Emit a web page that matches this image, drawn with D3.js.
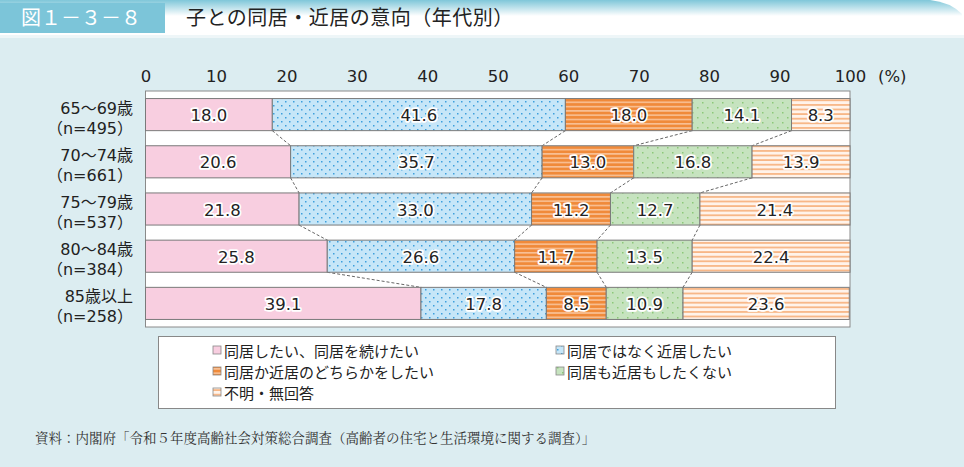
<!DOCTYPE html>
<html><head><meta charset="utf-8">
<script src="https://cdn.jsdelivr.net/npm/d3@7/dist/d3.min.js"></script>
<style>
html,body{margin:0;padding:0;background:#dcedf1;}
svg{display:block;font-family:"Noto Sans CJK JP","Noto Sans",sans-serif;}
</style></head>
<body><svg id="c" width="964" height="467"></svg>
<script>
const categories = ["65～69歳|（n=495）","70～74歳|（n=661）","75～79歳|（n=537）","80～84歳|（n=384）","85歳以上|（n=258）"];
const seriesNames = ["同居したい、同居を続けたい","同居ではなく近居したい","同居か近居のどちらかをしたい","同居も近居もしたくない","不明・無回答"];
const s1 = [18.0, 20.6, 21.8, 25.8, 39.1];
const s2 = [41.6, 35.7, 33.0, 26.6, 17.8];
const s3 = [18.0, 13.0, 11.2, 11.7, 8.5];
const s4 = [14.1, 16.8, 12.7, 13.5, 10.9];
const s5 = [8.3, 13.9, 21.4, 22.4, 23.6];
const tickValues = [0,10,20,30,40,50,60,70,80,90,100];
const series = [s1,s2,s3,s4,s5];

const NUMFONT = "'DejaVu Sans','Noto Sans CJK JP',sans-serif";
const svg = d3.select("#c");
const defs = svg.append("defs");

// header
const hg = defs.append("linearGradient").attr("id","hg").attr("x1",0).attr("y1",0).attr("x2",0).attr("y2",1);
hg.append("stop").attr("offset","0").attr("stop-color","#7fc7d9");
hg.append("stop").attr("offset","1").attr("stop-color","#ffffff");
svg.append("rect").attr("x",0).attr("y",0).attr("width",964).attr("height",38).attr("fill","#ffffff");
svg.append("path").attr("d","M0,0 H930 Q950,2 962,14 V16 H0 Z").attr("fill","url(#hg)");
svg.append("rect").attr("x",0).attr("y",3).attr("width",165).attr("height",30).attr("fill","#7cc5d9");
svg.append("text").attr("x",21).attr("y",25).attr("fill","#ffffff").attr("font-size",20).text("図１－３－８");
svg.append("text").attr("x",186).attr("y",25).attr("fill","#222").attr("font-size",20).attr("letter-spacing",0.5).text("子との同居・近居の意向（年代別）");
svg.append("rect").attr("x",0).attr("y",35).attr("width",964).attr("height",3).attr("fill","#eef6f8");

// patterns
function pat(id,w,h){ return defs.append("pattern").attr("id",id).attr("patternUnits","userSpaceOnUse").attr("width",w).attr("height",h); }
let p = pat("pBlue",8,8);
p.append("rect").attr("width",8).attr("height",8).attr("fill","#c6e6f8");
p.append("rect").attr("x",1).attr("y",1).attr("width",1.5).attr("height",1.5).attr("fill","#3d9fdc");
p.append("rect").attr("x",5).attr("y",5).attr("width",1.5).attr("height",1.5).attr("fill","#3d9fdc");
p = pat("pOrange",4,4.3);
p.append("rect").attr("width",4).attr("height",4.3).attr("fill","#f08a3a");
p.append("rect").attr("y",2.8).attr("width",4).attr("height",1.2).attr("fill","#fbd3b4");
p = pat("pGreen",10,10);
p.append("rect").attr("width",10).attr("height",10).attr("fill","#c6e3bf");
p.append("rect").attr("x",2).attr("y",2).attr("width",1.5).attr("height",1.5).attr("fill","#8cc879");
p.append("rect").attr("x",7).attr("y",7).attr("width",1.5).attr("height",1.5).attr("fill","#8cc879");
p = pat("pLight",4,4.6);
p.append("rect").attr("width",4).attr("height",4.6).attr("fill","#fff3ea");
p.append("rect").attr("y",3).attr("width",4).attr("height",1.4).attr("fill","#f6a56a");
const fills = ["#f8cee0","url(#pBlue)","url(#pOrange)","url(#pGreen)","url(#pLight)"];

const x = d3.scaleLinear().domain([0,100]).range([145.5,850]);
const y = d3.scaleBand().domain(categories).range([91,327]).paddingInner(0.32).paddingOuter(0.16);

// plot area
svg.append("rect").attr("x",x(0)).attr("y",91).attr("width",x(100)-x(0)).attr("height",236)
  .attr("fill","#ffffff").attr("stroke","#8a8a8a").attr("stroke-width",1);

// axis
const ax = svg.append("g").attr("transform","translate(0,82)")
  .call(d3.axisTop(x).tickValues(tickValues).tickSize(0).tickPadding(0).tickFormat(d3.format("d")));
ax.select(".domain").remove();
ax.selectAll("text").attr("font-size",16.5).attr("fill","#222").attr("font-family",NUMFONT);
svg.append("text").attr("x",878).attr("y",82).attr("font-size",16.5).attr("fill","#222").attr("font-family",NUMFONT).text("(%)");

// stacked data
const rows = categories.map((c,i)=>{
  let cum=0; const segs=[];
  series.forEach((s,k)=>{ const v=s[i]; segs.push({k,v,x0:cum,x1:Math.min(100,cum+v)}); cum+=v; });
  return {c,segs};
});

// connectors
for(let i=0;i<rows.length-1;i++){
  for(let k=0;k<4;k++){
    svg.append("line")
      .attr("x1",x(rows[i].segs[k].x1)).attr("y1",y(rows[i].c)+y.bandwidth())
      .attr("x2",x(rows[i+1].segs[k].x1)).attr("y2",y(rows[i+1].c))
      .attr("stroke","#555").attr("stroke-width",0.9).attr("stroke-dasharray","3,2");
  }
}

const g = svg.append("g");
rows.forEach(r=>{
  r.segs.forEach(s=>{
    g.append("rect").attr("x",x(s.x0)).attr("y",y(r.c)).attr("width",x(s.x1)-x(s.x0)).attr("height",y.bandwidth())
      .attr("fill",fills[s.k]).attr("stroke","#7a7a7a").attr("stroke-width",1);
  });
  r.segs.forEach(s=>{
    g.append("text").attr("x",(x(s.x0)+x(s.x1))/2).attr("y",y(r.c)+y.bandwidth()/2+6.5)
      .attr("text-anchor","middle").attr("font-size",16.5).attr("fill","#222").attr("font-family",NUMFONT)
      .attr("stroke","#ffffff").attr("stroke-width",3.5).attr("paint-order","stroke").attr("stroke-linejoin","round")
      .text(s.v.toFixed(1));
  });
  const parts = r.c.split("|");
  const t = svg.append("text").attr("text-anchor","end").attr("font-size",16).attr("fill","#222").attr("font-family",NUMFONT);
  t.append("tspan").attr("x",133).attr("y",y(r.c)+15).text(parts[0]);
  t.append("tspan").attr("x",133).attr("y",y(r.c)+35).text(parts[1]);
});

// legend
svg.append("rect").attr("x",158.5).attr("y",336.5).attr("width",677).attr("height",72).attr("fill","#ffffff").attr("stroke","#888");
const lpos = [[213,351],[556,351],[213,372],[556,372],[213,393]];
seriesNames.forEach((n,k)=>{
  const [lx,ly]=lpos[k];
  svg.append("rect").attr("x",lx).attr("y",ly-5).attr("width",8).attr("height",8).attr("fill",fills[k]).attr("stroke","#888").attr("stroke-width",0.8);
  svg.append("text").attr("x",lx+11).attr("y",ly+5.5).attr("font-size",15).attr("fill","#222").text(n);
});

// source
svg.append("text").attr("x",35).attr("y",443).attr("font-size",13.5).attr("fill","#333")
  .attr("font-family","'Noto Serif CJK JP','Noto Sans CJK JP',serif")
  .text("資料：内閣府「令和５年度高齢社会対策総合調査（高齢者の住宅と生活環境に関する調査）」");
</script></body></html>
